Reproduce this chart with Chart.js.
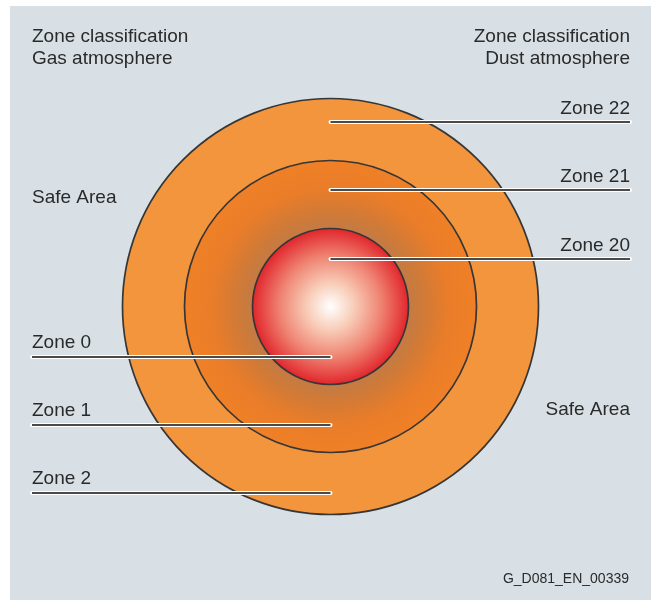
<!DOCTYPE html>
<html>
<head>
<meta charset="utf-8">
<title>Zone classification</title>
<script src="https://cdn.jsdelivr.net/npm/chart.js@4.4.1/dist/chart.umd.min.js"></script>
<style>
  html, body { margin: 0; padding: 0; background: #ffffff; }
  #wrap { position: relative; width: 651px; height: 600px; overflow: hidden; }
  #panel { position: absolute; left: 10px; top: 6px; right: 0; bottom: 0; background: #d8e0e5; }
  #zoneChart { position: absolute; left: 0; top: 0; }
</style>
</head>
<body>
<div id="wrap">
  <div id="panel"></div>
  <canvas id="zoneChart" width="651" height="600"></canvas>
</div>
<script>
// ==================== DATA ====================
// diagram units, origin at the centre of the zones, y pointing up
const ZONE_RADII   = [208, 146, 78];                 // outer edge: zone 2/22, zone 1/21, zone 0/20
const GAS_ZONES    = ['Zone 0', 'Zone 1', 'Zone 2'];
const GAS_LEVELS   = [-50.5, -118.5, -186.5];
const DUST_ZONES   = ['Zone 20', 'Zone 21', 'Zone 22'];
const DUST_LEVELS  = [47.5, 116.5, 184.5];
const GAS_EDGE     = -298.5;                         // where the gas callouts end (left)
const DUST_EDGE    = 299.5;                          // where the dust callouts end (right)
const X_RANGE      = [-330.5, 320.5];
const Y_RANGE      = [-293.5, 306.5];

const NOTES = [
  { text: 'Zone classification', x: GAS_EDGE,  y: 264.5, align: 'left' },
  { text: 'Gas atmosphere',      x: GAS_EDGE,  y: 242.5, align: 'left' },
  { text: 'Zone classification', x: DUST_EDGE, y: 264.5, align: 'right' },
  { text: 'Dust atmosphere',     x: DUST_EDGE, y: 242.5, align: 'right' },
  { text: 'Safe Area',           x: GAS_EDGE,  y: 103.5, align: 'left' },
  { text: 'Safe Area',           x: DUST_EDGE, y: -108.5, align: 'right' }
];
const DOC_ID = 'G_D081_EN_00339';

// ==================== HELPERS ====================
const OUTLINE = '#363636';

function pxPerUnit(chart) {
  const s = chart.scales.x;
  return s.getPixelForValue(1) - s.getPixelForValue(0);
}

function centre(chart) {
  return { cx: chart.scales.x.getPixelForValue(0), cy: chart.scales.y.getPixelForValue(0) };
}

function zoneFill(i) {
  const flat = ['#f3953d', '#ee7f26', '#e8453a'];
  return (ctx) => {
    const chart = ctx.chart;
    if (!chart.chartArea || i === 0) return flat[i];
    const { cx, cy } = centre(chart);
    const k = pxPerUnit(chart);
    if (i === 1) {
      const g = chart.ctx.createRadialGradient(cx, cy, ZONE_RADII[2] * k, cx, cy, ZONE_RADII[1] * k);
      g.addColorStop(0, '#c27b45');
      g.addColorStop(0.25, '#d27a36');
      g.addColorStop(0.6, '#ea7d29');
      g.addColorStop(1, '#ef8026');
      return g;
    }
    const g = chart.ctx.createRadialGradient(cx, cy, 0, cx, cy, ZONE_RADII[2] * k);
    g.addColorStop(0, '#ffffff');
    g.addColorStop(0.3, '#f8cdb8');
    g.addColorStop(0.65, '#ef8372');
    g.addColorStop(1, '#e1262c');
    return g;
  };
}

function callout(from, to, level, white) {
  return {
    data: [{ x: from, y: level }, { x: to, y: level }],
    showLine: true,
    borderColor: white ? '#ffffff' : '#4a4a4a',
    borderWidth: white ? 4 : 1.8,
    borderCapStyle: white ? 'round' : 'butt',
    pointRadius: 0,
    clip: false,
    order: white ? 1 : 0
  };
}

// ==================== DATASETS ====================
const circleSets = ZONE_RADII.map((r, i) => ({
  data: [{ x: 0, y: 0 }],
  pointRadius: (ctx) => r * pxPerUnit(ctx.chart),
  pointBackgroundColor: zoneFill(i),
  pointBorderColor: OUTLINE,
  pointBorderWidth: 1.7,
  clip: false,
  order: 5 - i
}));

const lineSets = [];
GAS_LEVELS.forEach(l => {
  lineSets.push(callout(GAS_EDGE, 0, l, true));
  lineSets.push(callout(GAS_EDGE, 0, l, false));
});
DUST_LEVELS.forEach(l => {
  lineSets.push(callout(0, DUST_EDGE, l, true));
  lineSets.push(callout(0, DUST_EDGE, l, false));
});

// ==================== LABELS ====================
const zoneLabels = {
  id: 'zoneLabels',
  afterDatasetsDraw(chart) {
    const { ctx, scales: { x, y } } = chart;
    ctx.save();
    ctx.fillStyle = '#2a2a2a';
    ctx.font = '19px "Liberation Sans", Arial, sans-serif';
    ctx.textBaseline = 'alphabetic';

    ctx.textAlign = 'left';
    GAS_ZONES.forEach((n, i) => ctx.fillText(n, x.getPixelForValue(GAS_EDGE), y.getPixelForValue(GAS_LEVELS[i]) - 9));
    ctx.textAlign = 'right';
    DUST_ZONES.forEach((n, i) => ctx.fillText(n, x.getPixelForValue(DUST_EDGE), y.getPixelForValue(DUST_LEVELS[i]) - 8.5));

    NOTES.forEach(n => {
      ctx.textAlign = n.align;
      ctx.fillText(n.text, x.getPixelForValue(n.x), y.getPixelForValue(n.y));
    });

    ctx.font = '14px "Liberation Sans", Arial, sans-serif';
    ctx.textAlign = 'right';
    ctx.fillText(DOC_ID, x.getPixelForValue(DUST_EDGE) - 1, y.getPixelForValue(-276.5));
    ctx.restore();
  }
};

// ==================== CHART ====================
new Chart(document.getElementById('zoneChart'), {
  type: 'scatter',
  data: { datasets: [...lineSets, ...circleSets] },
  options: {
    responsive: false,
    animation: false,
    events: [],
    layout: { padding: 0 },
    plugins: { legend: { display: false }, tooltip: { enabled: false } },
    scales: {
      x: { type: 'linear', display: false, min: X_RANGE[0], max: X_RANGE[1] },
      y: { type: 'linear', display: false, min: Y_RANGE[0], max: Y_RANGE[1] }
    }
  },
  plugins: [zoneLabels]
});
</script>
</body>
</html>
